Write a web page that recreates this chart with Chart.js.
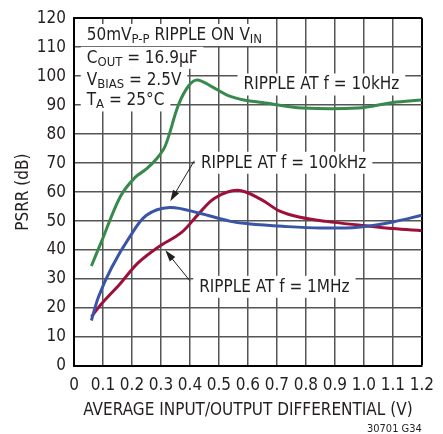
<!DOCTYPE html>
<html>
<head>
<meta charset="utf-8">
<script src="https://cdn.jsdelivr.net/npm/chart.js@4.4.0/dist/chart.umd.min.js"></script>
<style>
  html, body { margin: 0; padding: 0; background: #fff; }
  canvas { display: block; }
</style>
</head>
<body>
<canvas id="psrrChart" width="443" height="434"></canvas>
<script>
const FONT = "'Liberation Sans Narrow', 'DejaVu Sans Condensed', 'Liberation Sans', sans-serif";
const INK = '#231f20';

// tick labels
const xTickLabels = ['0', '0.1', '0.2', '0.3', '0.4', '0.5', '0.6', '0.7', '0.8', '0.9', '1.0', '1.1', '1.2'];

// ripple at 10kHz
const x10k = [0.06, 0.095, 0.16, 0.21, 0.25, 0.285, 0.315, 0.36, 0.395, 0.425, 0.475, 0.53, 0.59, 0.65, 0.79, 0.98, 1.10, 1.20];
const psrr10k = [34.5, 43, 58.5, 65, 68, 71.5, 76, 90, 96.6, 98.7, 96.4, 93.4, 91.7, 90.9, 89, 89, 90.9, 91.8];

// ripple at 100kHz
const x100k = [0.06, 0.085, 0.13, 0.19, 0.25, 0.33, 0.43, 0.54, 0.60, 0.72, 0.85, 0.98, 1.10, 1.20];
const psrr100k = [15.7, 24, 34, 44.2, 52, 54.7, 52.8, 49.9, 49.1, 48.2, 47.6, 47.9, 49.7, 52];

// ripple at 1MHz
const x1M = [0.06, 0.09, 0.16, 0.22, 0.29, 0.37, 0.43, 0.485, 0.565, 0.645, 0.71, 0.78, 0.87, 0.995, 1.10, 1.20];
const psrr1M = [16.9, 20.9, 28.5, 35.5, 41, 46, 52.5, 57.9, 60.6, 57.5, 53.4, 51.3, 49.9, 48.5, 47.4, 46.7];

// annotation text, parts flagged 1 are subscripts; x/y in data units (baseline)
const notes = [
    { x: 0.044, y: 112.5, parts: [['50mV', 0], ['P-P', 1], [' RIPPLE ON V', 0], ['IN', 1]] },
    { x: 0.044, y: 104.6, parts: [['C', 0], ['OUT', 1], [' = 16.9µF', 0]] },
    { x: 0.044, y: 97.1, parts: [['V', 0], ['BIAS', 1], [' = 2.5V', 0]] },
    { x: 0.044, y: 89.9, parts: [['T', 0], ['A', 1], [' = 25°C', 0]] },
    { x: 0.585, y: 95.4, parts: [['RIPPLE AT f = 10kHz', 0]] },
    { x: 0.438, y: 68.4, parts: [['RIPPLE AT f = 100kHz', 0]] },
    { x: 0.432, y: 25.6, parts: [['RIPPLE AT f = 1MHz', 0]] }
];
const arrows = [
    { from: [0.415, 70.8], to: [0.332, 56.8] },
    { from: [0.40, 29.4], to: [0.315, 39.9] }
];

function toPoints(xs, ys) {
    return xs.map((x, i) => ({ x: x, y: ys[i] }));
}

const annotationPlugin = {
    id: 'annotations',
    beforeDatasetsDraw(chart) {
        const ctx = chart.ctx;
        const xs = chart.scales.x, ys = chart.scales.y;
        ctx.save();
        ctx.textBaseline = 'alphabetic';
        notes.forEach(n => {
            const px = xs.getPixelForValue(n.x);
            const py = ys.getPixelForValue(n.y);
            let w = 0;
            n.parts.forEach(([t, sub]) => {
                ctx.font = (sub ? 13 : 17) + 'px ' + FONT;
                w += ctx.measureText(t).width;
            });
            ctx.fillStyle = '#fff';
            ctx.fillRect(px - 6, py - 16, w + 12, 22);
            let cx = px;
            ctx.fillStyle = INK;
            n.parts.forEach(([t, sub]) => {
                ctx.font = (sub ? 13 : 17) + 'px ' + FONT;
                ctx.fillText(t, cx, py + (sub ? 3 : 0));
                cx += ctx.measureText(t).width;
            });
        });
        ctx.strokeStyle = INK;
        ctx.fillStyle = INK;
        ctx.lineWidth = 1;
        arrows.forEach(a => {
            const x1 = xs.getPixelForValue(a.from[0]), y1 = ys.getPixelForValue(a.from[1]);
            const x2 = xs.getPixelForValue(a.to[0]), y2 = ys.getPixelForValue(a.to[1]);
            const ang = Math.atan2(y2 - y1, x2 - x1);
            ctx.beginPath();
            ctx.moveTo(x1, y1);
            ctx.lineTo(x2 - 8 * Math.cos(ang), y2 - 8 * Math.sin(ang));
            ctx.stroke();
            ctx.beginPath();
            ctx.moveTo(x2, y2);
            ctx.lineTo(x2 - 12 * Math.cos(ang - 0.3), y2 - 12 * Math.sin(ang - 0.3));
            ctx.lineTo(x2 - 12 * Math.cos(ang + 0.3), y2 - 12 * Math.sin(ang + 0.3));
            ctx.closePath();
            ctx.fill();
        });
        ctx.restore();
    },
    afterDraw(chart) {
        const ctx = chart.ctx;
        ctx.save();
        ctx.font = '11px ' + FONT;
        ctx.fillStyle = INK;
        ctx.textAlign = 'right';
        ctx.textBaseline = 'alphabetic';
        ctx.fillText('30701 G34', chart.chartArea.right, 432);
        ctx.restore();
    }
};

const edge = (v, end) => Math.abs(v - end) < 1e-6;

new Chart(document.getElementById('psrrChart'), {
    type: 'line',
    data: {
        datasets: [
            { label: '10kHz', data: toPoints(x10k, psrr10k), borderColor: '#378a4c' },
            { label: '100kHz', data: toPoints(x100k, psrr100k), borderColor: '#3a55a6' },
            { label: '1MHz', data: toPoints(x1M, psrr1M), borderColor: '#9c1039' }
        ]
    },
    options: {
        responsive: false,
        animation: false,
        devicePixelRatio: 1,
        layout: { padding: { top: 15, right: 16, left: 0, bottom: 0 } },
        plugins: { legend: { display: false }, tooltip: { enabled: false } },
        elements: {
            point: { radius: 0 },
            line: { borderWidth: 3, tension: 0.35, fill: false }
        },
        scales: {
            x: {
                type: 'linear',
                min: 0,
                max: 1.2,
                afterFit: s => { s.height = 68; },
                ticks: {
                    stepSize: 0.1,
                    autoSkip: false,
                    maxRotation: 0,
                    padding: 9,
                    color: INK,
                    font: { family: FONT, size: 17 },
                    callback: (v, i) => xTickLabels[i]
                },
                grid: {
                    drawTicks: false,
                    color: c => edge(c.tick.value, 1.2) ? '#000' : '#555',
                    lineWidth: c => edge(c.tick.value, 1.2) ? 2 : 1.5
                },
                border: { color: '#000', width: 2 },
                title: {
                    display: true,
                    text: 'AVERAGE INPUT/OUTPUT DIFFERENTIAL (V)',
                    color: INK,
                    font: { family: FONT, size: 17 },
                    padding: { bottom: 13 }
                }
            },
            y: {
                min: 0,
                max: 120,
                afterFit: s => { s.width = 74; },
                ticks: {
                    stepSize: 10,
                    padding: 8,
                    color: INK,
                    font: { family: FONT, size: 17 }
                },
                grid: {
                    drawTicks: false,
                    color: c => edge(c.tick.value, 120) ? '#000' : '#555',
                    lineWidth: c => edge(c.tick.value, 120) ? 2 : 1.5
                },
                border: { color: '#000', width: 2 },
                title: {
                    display: true,
                    text: 'PSRR (dB)',
                    color: INK,
                    font: { family: FONT, size: 17 },
                    padding: { top: 13 }
                }
            }
        }
    },
    plugins: [annotationPlugin]
});
</script>
</body>
</html>
